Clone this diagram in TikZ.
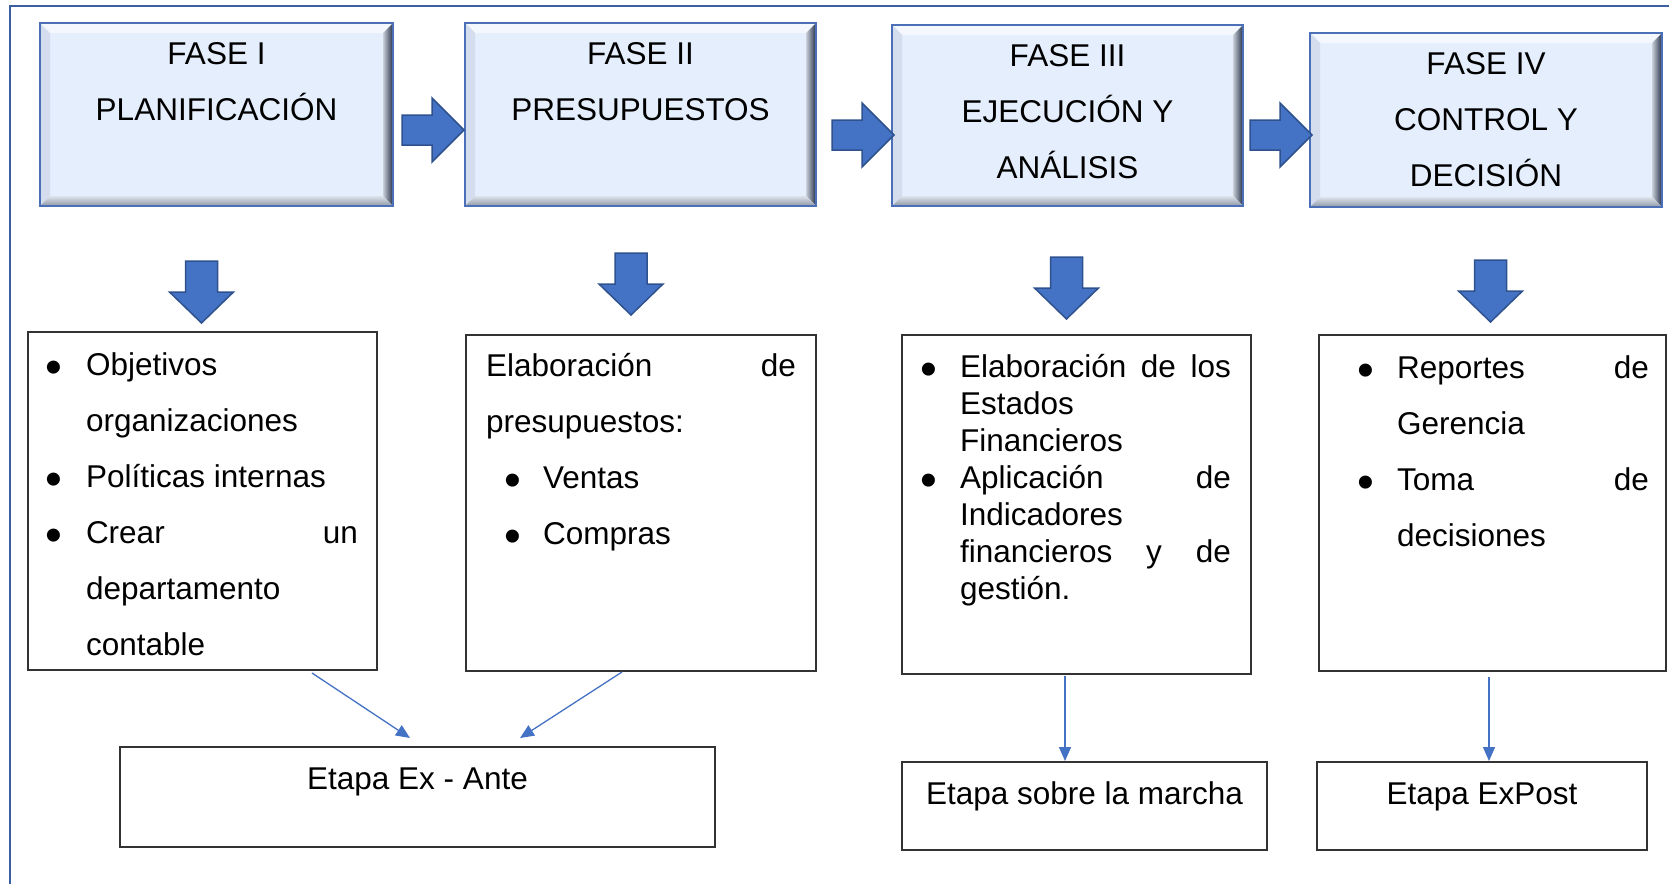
\documentclass[tikz,border=0pt]{standalone}
\usepackage{fontspec}
\setmainfont{Liberation Sans}
\usepackage{graphicx}
\usetikzlibrary{calc,arrows.meta}
\definecolor{framec}{HTML}{3B5EA0}
\definecolor{arrfill}{HTML}{4472C4}
\definecolor{arrdraw}{HTML}{2F528F}
\definecolor{phfill}{HTML}{E5EEFC}
\definecolor{phborder}{HTML}{4C70B8}
\definecolor{boxline}{HTML}{333333}
\definecolor{bevT}{HTML}{F4F8FE}
\definecolor{bevL}{HTML}{D3DDEE}
\definecolor{bevRa}{HTML}{C9CFD9}
\definecolor{bevRb}{HTML}{243047}
\definecolor{bevBa}{HTML}{DDE3EC}
\definecolor{bevBb}{HTML}{8F98A6}
\newcommand\bul{\makebox[0pt]{\raisebox{-8pt}{\fontsize{48pt}{48pt}\selectfont •}}}
\newcommand\ptext[3]{\parbox[c][#2pt][t]{#1pt}{\centering\rule{0pt}{41pt}#3}}
\newcommand\cboxtext[3]{\parbox[c][#2pt][t]{#1pt}{#3}}
\newcommand\bevel[1]{%
  \fill[bevT] (#1.north west) -- (#1.north east) -- ($(#1.north east)+(-10,10)$) -- ($(#1.north west)+(10,10)$) -- cycle;
  \fill[bevL] (#1.north west) -- ($(#1.north west)+(10,10)$) -- ($(#1.south west)+(10,-10)$) -- (#1.south west) -- cycle;
  \shade[left color=bevRa, right color=bevRb] (#1.north east) -- (#1.south east) -- ($(#1.south east)+(-10,-10)$) -- ($(#1.north east)+(-10,10)$) -- cycle;
  \shade[top color=bevBa, bottom color=bevBb] (#1.south west) -- ($(#1.south west)+(10,-10)$) -- ($(#1.south east)+(-10,-10)$) -- (#1.south east) -- cycle;
  \draw[phborder, line width=1.6pt] (#1.north west) rectangle (#1.south east);
}
\newcommand\rarr[2]{%
  \draw[blockarrow] (#1,#2-15) -- ++(30,0) -- ++(0,-17) -- ++(32,32) -- ++(-32,32) -- ++(0,-17) -- ++(-30,0) -- cycle;}
\newcommand\darr[2]{%
  \draw[blockarrow] (#1-16,#2) -- ++(32,0) -- ++(0,31) -- ++(16,0) -- ++(-32,31) -- ++(-32,-31) -- ++(16,0) -- cycle;}
\begin{document}
\begin{tikzpicture}[x=1pt,y=-1pt,
  every node/.style={inner sep=0pt, outer sep=0pt, font=\fontsize{31.5pt}{56pt}\selectfont},
  phase/.style={rectangle, fill=phfill, anchor=north west},
  cbox/.style={rectangle, draw=boxline, line width=1.4pt, fill=white, anchor=north west},
  blockarrow/.style={fill=arrfill, draw=arrdraw, line width=1.5pt, line join=miter},
  thinarr/.style={draw=arrfill, line width=1.3pt, -{Triangle[length=14pt,width=12pt]}},
  framel/.style={draw=framec, line width=2.6pt}]
\useasboundingbox (0,0) rectangle (1669,884);
\fill[white] (0,0) rectangle (1669,884);
\draw[framel] (10,884) -- (10,6) -- (1669,6);

% phase boxes
\node[phase] (p1) at (40,23) {\ptext{353}{183}{FASE I\\PLANIFICACIÓN}};
\node[phase] (p2) at (465,23) {\ptext{351}{183}{FASE II\\PRESUPUESTOS}};
\node[phase] (p3) at (892,25) {\ptext{351}{181}{FASE III\\EJECUCIÓN Y\\ANÁLISIS}};
\node[phase] (p4) at (1310,33) {\ptext{352}{174}{FASE IV\\CONTROL Y\\DECISIÓN}};
\bevel{p1}\bevel{p2}\bevel{p3}\bevel{p4}

% block arrows
\rarr{402}{130}
\rarr{832}{135}
\rarr{1250}{135}
\darr{201.5}{261}
\darr{631}{253}
\darr{1066.5}{257}
\darr{1490.5}{260}

% content boxes
\node[cbox] (b1) at (28,332) {\cboxtext{349}{338}{%
\rule{0pt}{43pt}\hspace*{26pt}\bul\hspace*{32pt}Objetivos\\
\hspace*{58pt}organizaciones\\
\hspace*{26pt}\bul\hspace*{32pt}Políticas internas\\
\hspace*{26pt}\bul\hspace*{32pt}\hbox to 272pt{Crear\hfill un}\\
\hspace*{58pt}departamento\\
\hspace*{58pt}contable}};
\node[cbox] (b2) at (466,335) {\cboxtext{350}{336}{%
\rule{0pt}{41pt}\hspace*{20pt}\hbox to 310pt{Elaboración\hfill de}\\
\hspace*{20pt}presupuestos:\\
\hspace*{47pt}\bul\hspace*{30pt}Ventas\\
\hspace*{47pt}\bul\hspace*{30pt}Compras}};
\node[cbox] (b3) at (902,335) {\cboxtext{349}{339}{\fontsize{31.5pt}{37pt}\selectfont
\rule{0pt}{42pt}\hspace*{27pt}\bul\hspace*{31pt}\hbox to 271pt{Elaboración\hfill de\hfill los}\\
\hspace*{58pt}Estados\\
\hspace*{58pt}Financieros\\
\hspace*{27pt}\bul\hspace*{31pt}\hbox to 271pt{Aplicación\hfill de}\\
\hspace*{58pt}Indicadores\\
\hspace*{58pt}\hbox to 271pt{financieros\hfill y\hfill de}\\
\hspace*{58pt}gestión.}};
\node[cbox] (b4) at (1319,335) {\cboxtext{347}{336}{%
\rule{0pt}{43pt}\hspace*{47pt}\bul\hspace*{31pt}\hbox to 252pt{Reportes\hfill de}\\
\hspace*{78pt}Gerencia\\
\hspace*{47pt}\bul\hspace*{31pt}\hbox to 252pt{Toma\hfill de}\\
\hspace*{78pt}decisiones}};

% stage boxes
\node[cbox] (e1) at (120,747) {\parbox[c][100pt][t]{595pt}{\centering\rule{0pt}{42pt}Etapa Ex - Ante}};
\node[cbox] (e2) at (902,762) {\parbox[c][88pt][t]{365pt}{\centering\rule{0pt}{42pt}Etapa sobre la marcha}};
\node[cbox] (e3) at (1317,762) {\parbox[c][88pt][t]{330pt}{\centering\rule{0pt}{42pt}Etapa ExPost}};

% connectors
\draw[thinarr] ($(b1.south west)+(284,3)$) -- ($(e1.north west)+(290,-9)$);
\draw[thinarr] ($(b2.south west)+(156,1)$) -- ($(e1.north west)+(400,-9)$);
\draw[thinarr] ($(b3.south west)+(163,2)$) -- ($(e2.north west)+(163,-1)$);
\draw[thinarr] ($(b4.south west)+(170,6)$) -- ($(e3.north west)+(172,-1)$);
\end{tikzpicture}
\end{document}
